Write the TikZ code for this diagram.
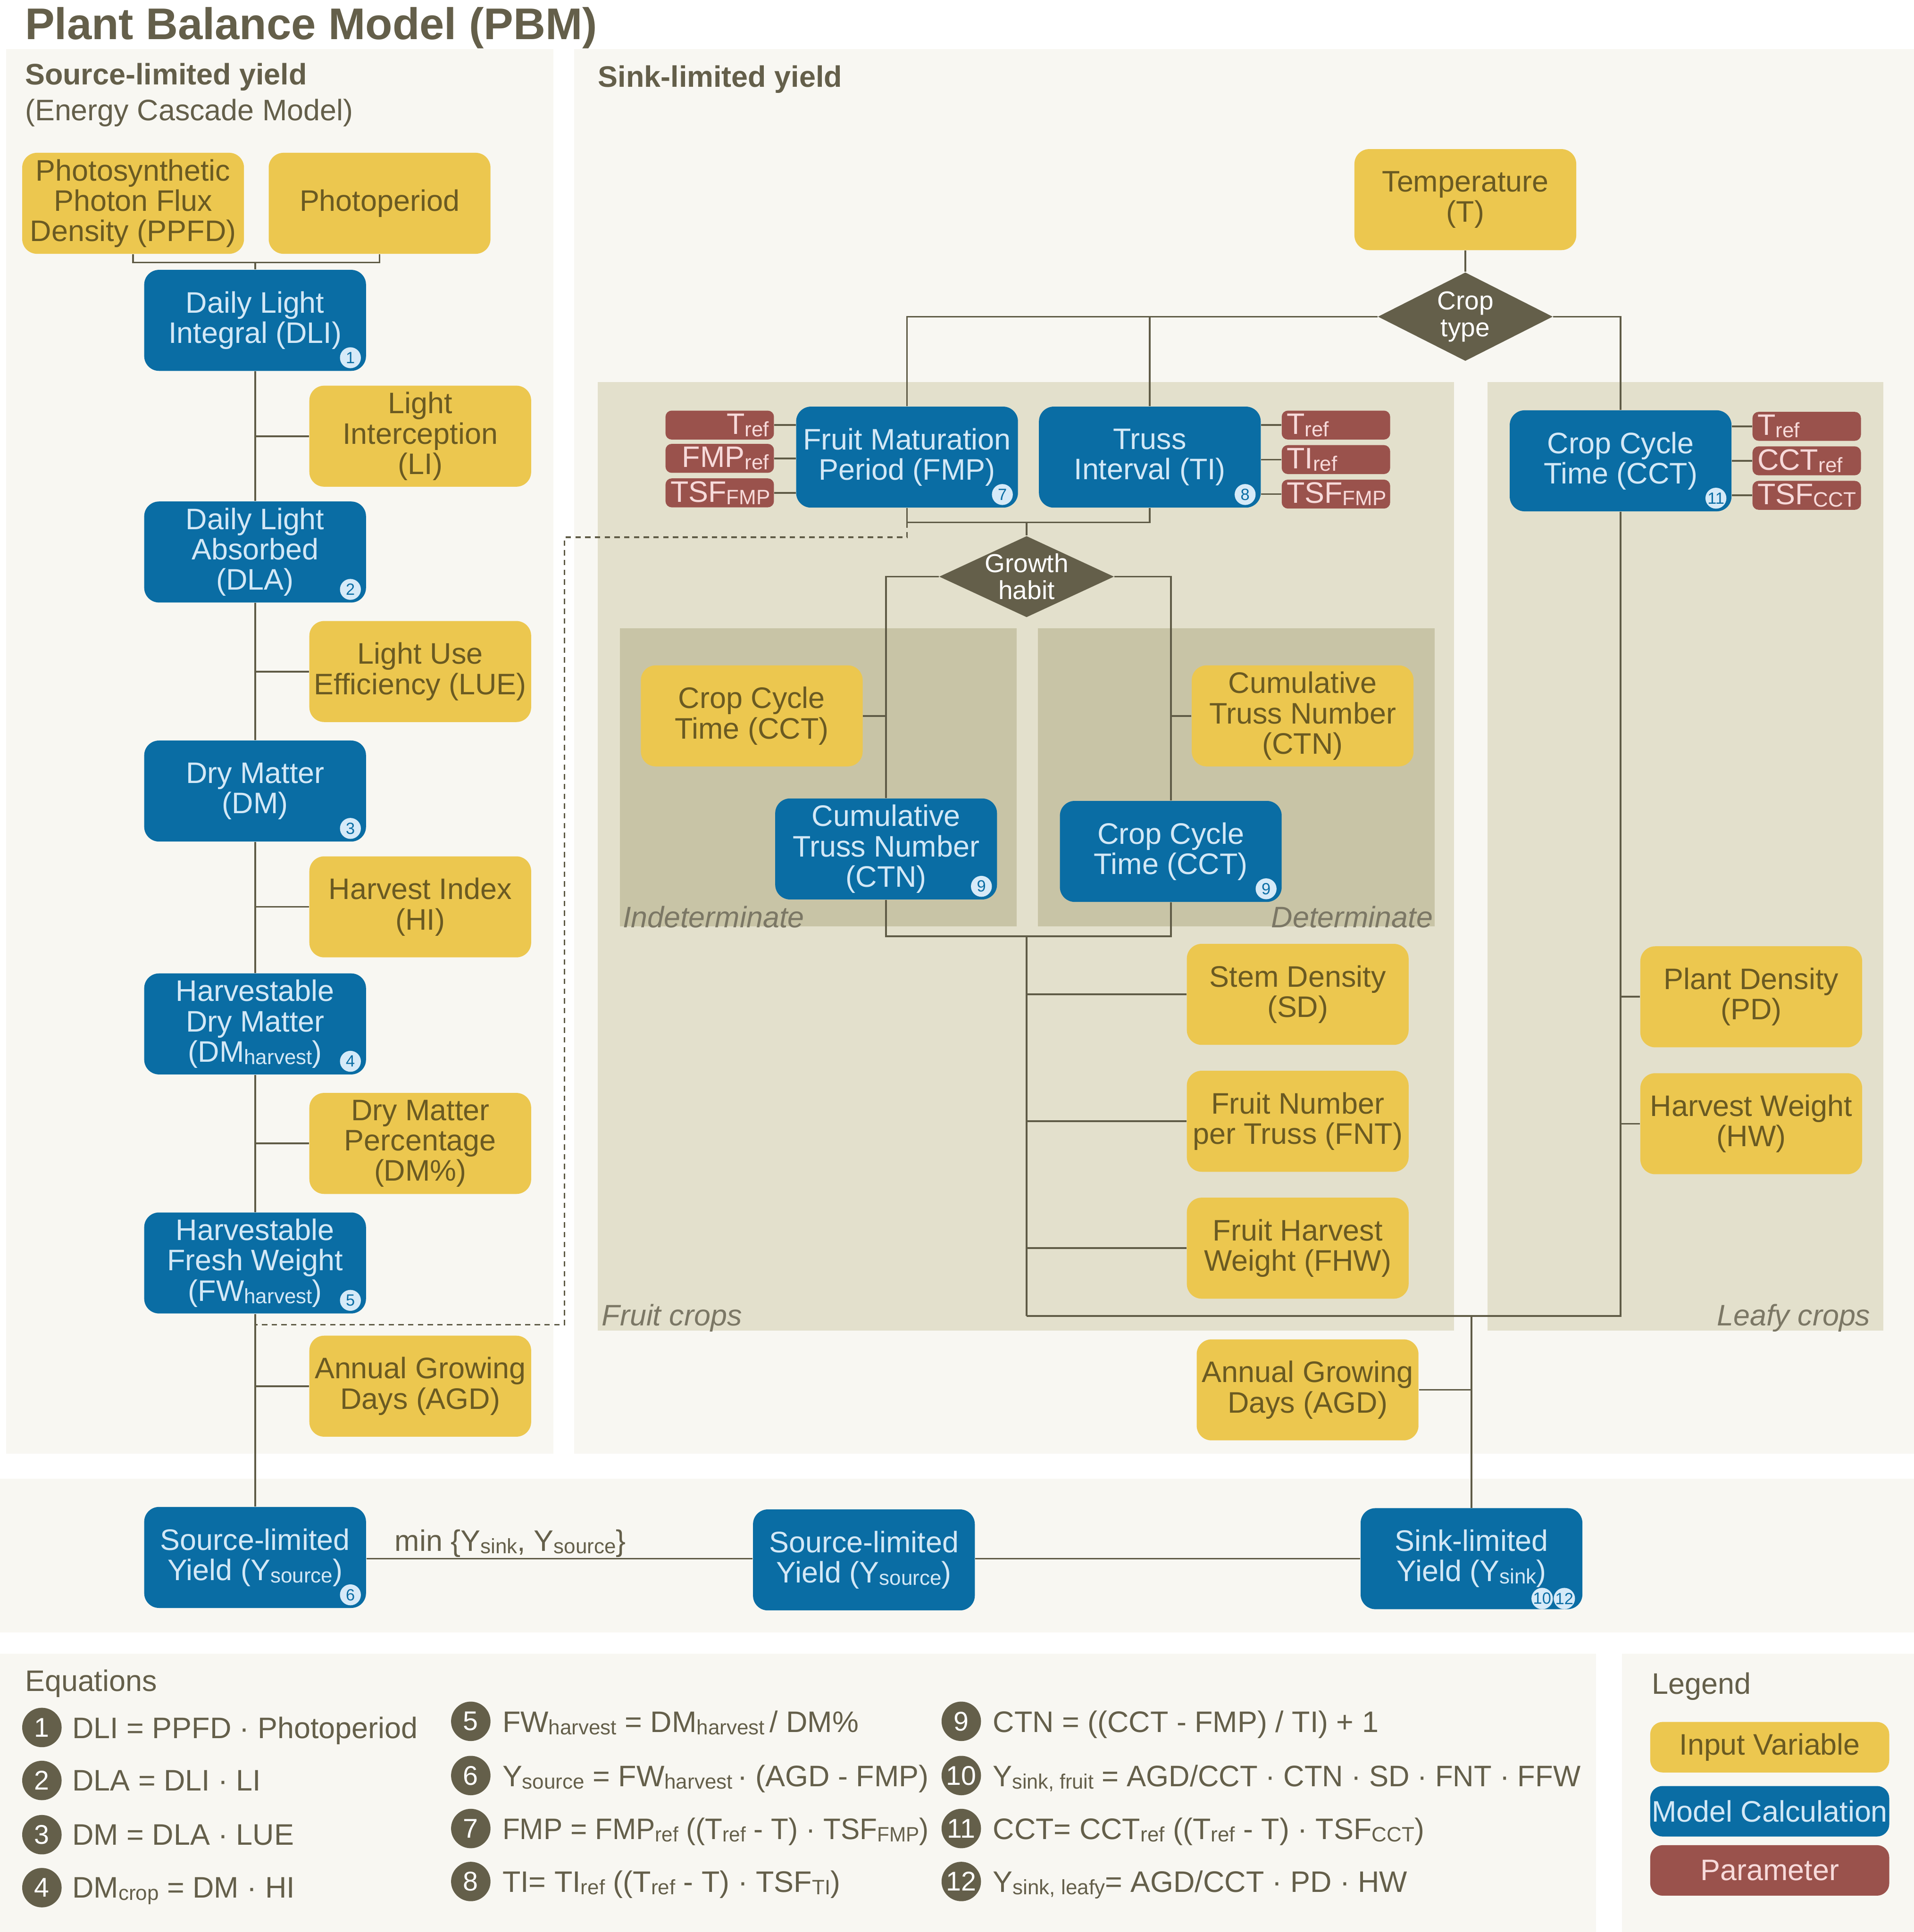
\documentclass[tikz,border=0pt]{standalone}
\usepackage{fontspec}
\setmainfont{Liberation Sans}
\usepackage{xcolor}
\usetikzlibrary{positioning,shapes.geometric,calc}

\definecolor{panelbg}{HTML}{F8F7F2}
\definecolor{fruitbg}{HTML}{E3E0CC}
\definecolor{habitbg}{HTML}{C8C4A6}
\definecolor{inyel}{HTML}{ECC74F}
\definecolor{intxt}{HTML}{6A5A22}
\definecolor{calcblue}{HTML}{0A6DA4}
\definecolor{calctxt}{HTML}{D3E8F6}
\definecolor{parred}{HTML}{9A524C}
\definecolor{partxt}{HTML}{F7DADA}
\definecolor{dkolive}{HTML}{645F4A}
\definecolor{linec}{HTML}{5F5B46}
\definecolor{badgec}{HTML}{D6EAF8}

\newcommand{\sbs}[1]{\raisebox{-0.15ex}{\scalebox{0.7}{#1}}}
\newcommand{\boxfont}{\fontsize{13.7}{14}\selectfont}

\tikzset{
  box/.style={rounded corners=0.24cm, minimum width=3.6cm, minimum height=1.64cm,
    inner sep=1pt, align=center, font=\boxfont},
  inp/.style={box, fill=inyel, text=intxt},
  calc/.style={box, fill=calcblue, text=calctxt},
  param/.style={fill=parred, text=partxt, rounded corners=0.1cm, minimum height=0.47cm,
    inner xsep=0.08cm, inner ysep=0pt, text width=1.6cm, font=\boxfont},
  paramL/.style={param, align=right},
  paramR/.style={param, align=left},
  choice/.style={diamond, fill=dkolive, text=white, inner sep=-8pt, minimum width=2.84cm,
    minimum height=1.44cm, align=center, font=\fontsize{12}{12.5}\selectfont},
  badge/.style={circle, fill=badgec, text=calcblue, inner sep=0pt, minimum size=0.34cm,
    font=\fontsize{7.5}{8}\selectfont},
  eqnum/.style={circle, fill=dkolive, text=white, inner sep=0pt, minimum size=0.64cm,
    font=\fontsize{12.5}{13}\selectfont},
  eqtxt/.style={text=dkolive, inner sep=0pt, text depth=0pt, font=\boxfont},
  lbl/.style={text=dkolive, inner sep=0pt, text depth=0pt, font=\boxfont},
  area/.style={text=dkolive!85, inner sep=0pt, text depth=0pt, font=\boxfont\itshape},
  legbox/.style={minimum width=3.88cm, minimum height=0.82cm, rounded corners=0.2cm, inner sep=0pt},
  link/.style={draw=linec, line width=0.8pt},
  dashlink/.style={draw=linec, line width=0.7pt, dash pattern=on 2.5pt off 2pt},
}

\begin{document}
\begin{tikzpicture}[x=0.02cm, y=-0.02cm]
    % Page and panels
    \fill[white] (0,0) rectangle (1553,1568);
    \useasboundingbox (0,0) rectangle (1553,1568);
    \fill[panelbg] (5,40) rectangle (449,1180);
    \fill[panelbg] (466,40) rectangle (1553,1180);
    \fill[panelbg] (0,1200) rectangle (1553,1325);
    \fill[panelbg] (0,1342) rectangle (1295,1568);
    \fill[panelbg] (1316,1342) rectangle (1553,1568);
    \fill[fruitbg] (485,310) rectangle (1180,1080);
    \fill[fruitbg] (1207,310) rectangle (1528,1080);
    \fill[habitbg] (503,510) rectangle (825,752);
    \fill[habitbg] (842,510) rectangle (1164,752);

    % Titles
    \node[lbl, anchor=west, font=\fontsize{20.5}{22}\selectfont\bfseries] (title) at (20,19) {Plant Balance Model (PBM)};
    \node[lbl, anchor=west, font=\boxfont\bfseries] (srchead) at (20,60) {Source-limited yield};
    \node[lbl, anchor=west] (srcsub) at (20,89) {(Energy Cascade Model)};
    \node[lbl, anchor=west, font=\boxfont\bfseries] (sinkhead) at (485,62) {Sink-limited yield};
    \node[area, anchor=west] (fruitlbl) at (488,1067) {Fruit crops};
    \node[area, anchor=east] (leafylbl) at (1518,1067) {Leafy crops};
    \node[area, anchor=west] (indetlbl) at (505,744) {Indeterminate};
    \node[area, anchor=east] (detlbl) at (1163,744) {Determinate};

    % Source-limited column
    \node[inp] (ppfd) at (108,165) {Photosynthetic\\Photon Flux\\Density (PPFD)};
    \node[inp] (photo) at (308,165) {Photoperiod};
    \node[calc] (dli) at (207,260) {Daily Light\\Integral (DLI)};
    \node[inp] (li) at (341,354) {Light\\Interception\\(LI)};
    \node[calc] (dla) at (207,448) {Daily Light\\Absorbed\\(DLA)};
    \node[inp] (lue) at (341,545) {Light Use\\Efficiency (LUE)};
    \node[calc] (dm) at (207,642) {Dry Matter\\(DM)};
    \node[inp] (hi) at (341,736) {Harvest Index\\(HI)};
    \node[calc] (dmh) at (207,831) {Harvestable\\Dry Matter\\(DM\sbs{harvest})};
    \node[inp] (dmp) at (341,928) {Dry Matter\\Percentage\\(DM\%)};
    \node[calc] (fwh) at (207,1025) {Harvestable\\Fresh Weight\\(FW\sbs{harvest})};
    \node[inp] (agdl) at (341,1125) {Annual Growing\\Days (AGD)};
    \node[calc] (ysrc) at (207,1264) {Source-limited\\Yield (Y\sbs{source})};

    \coordinate (jl) at (207,213);
    \draw[link] (ppfd.south) |- (jl) -| (photo.south);
    \draw[link] (jl) -- (dli.north);
    \foreach \a/\b in {dli/dla, dla/dm, dm/dmh, dmh/fwh, fwh/ysrc}
        \draw[link] (\a) -- (\b);
    \foreach \n in {li, lue, hi, dmp, agdl}
        \draw[link] (\n.west) -- (\n.west -| dli.south);

    % Sink-limited part
    \node[inp] (temp) at (1189,162) {Temperature\\(T)};
    \node[choice] (crop) at (1189,257) {Crop\\type};
    \node[calc] (fmp) at (736,371) {Fruit Maturation\\Period (FMP)};
    \node[calc] (ti) at (933,371) {Truss\\Interval (TI)};
    \node[calc] (cctl) at (1315,374) {Crop Cycle\\Time (CCT)};

    \node[paramL] (fmpt) at (584,345) {T\sbs{ref}};
    \node[paramL] (fmpr) at (584,372) {FMP\sbs{ref}};
    \node[paramL] (fmps) at (584,400) {TSF\sbs{FMP}};
    \node[paramR] (tit) at (1084,345) {T\sbs{ref}};
    \node[paramR] (tir) at (1084,373) {TI\sbs{ref}};
    \node[paramR] (tis) at (1084,401) {TSF\sbs{FMP}};
    \node[paramR] (cctt) at (1466,346) {T\sbs{ref}};
    \node[paramR] (cctr) at (1466,374) {CCT\sbs{ref}};
    \node[paramR] (ccts) at (1466,402) {TSF\sbs{CCT}};

    \node[choice, minimum height=1.32cm] (habit) at (833,468) {Growth\\habit};
    \node[inp] (cct1) at (610,581) {Crop Cycle\\Time (CCT)};
    \node[calc] (ctn1) at (719,689) {Cumulative\\Truss Number\\(CTN)};
    \node[inp] (ctn2) at (1057,581) {Cumulative\\Truss Number\\(CTN)};
    \node[calc] (cct2) at (950,691) {Crop Cycle\\Time (CCT)};
    \node[inp] (sd) at (1053,807) {Stem Density\\(SD)};
    \node[inp] (fnt) at (1053,910) {Fruit Number\\per Truss (FNT)};
    \node[inp] (fhw) at (1053,1013) {Fruit Harvest\\Weight (FHW)};
    \node[inp] (pd) at (1421,809) {Plant Density\\(PD)};
    \node[inp] (hw) at (1421,912) {Harvest Weight\\(HW)};
    \node[inp] (agdr) at (1061,1128) {Annual Growing\\Days (AGD)};
    \node[calc] (ymid) at (701,1266) {Source-limited\\Yield (Y\sbs{source})};
    \node[calc] (ysink) at (1194,1265) {Sink-limited\\Yield (Y\sbs{sink})};

    \draw[link] (temp) -- (crop);
    \draw[link] (crop.west) -| (fmp.north);
    \draw[link] (ti.north) -- (ti.north |- crop.west);
    \draw[link] (crop.east) -| (cctl.north);
    \foreach \p in {fmpt, fmpr, fmps}
        \draw[link] (\p.east) -- (\p.east -| fmp.west);
    \foreach \p in {tit, tir, tis}
        \draw[link] (\p.west) -- (\p.west -| ti.east);
    \foreach \p in {cctt, cctr, ccts}
        \draw[link] (\p.west) -- (\p.west -| cctl.east);

    \coordinate (jt) at (833,424);
    \draw[link] (fmp.south) |- (jt) -| (ti.south);
    \draw[link] (jt) -- (habit.north);
    \draw[link] (habit.west) -| (ctn1.north);
    \draw[link] (habit.east) -| (cct2.north);
    \draw[link] (cct1.east) -- (cct1.east -| ctn1.north);
    \draw[link] (ctn2.west) -- (ctn2.west -| cct2.north);

    \coordinate (jh) at (833,760);
    \coordinate (jf) at (833,1068);
    \draw[link] (ctn1.south) |- (jh) -| (cct2.south);
    \draw[link] (jh) -- (jf);
    \foreach \n in {sd, fnt, fhw}
        \draw[link] (\n.west) -- (\n.west -| jh);
    \draw[link] (cctl.south) |- (jf);
    \foreach \n in {pd, hw}
        \draw[link] (\n.west) -- (\n.west -| cctl.south);
    \draw[link] (ysink.north) -- (ysink.north |- jf);
    \draw[link] (agdr.east) -- (agdr.east -| ysink.north);

    % FMP feeds back into source yield
    \coordinate (da) at (458,436);
    \coordinate (db) at (458,1075);
    \draw[dashlink] (fmp.south |- jt) |- (da) -- (db) -- (db -| dli.south);

    % Final yield
    \coordinate (jy) at (207,1265);
    \draw[link] (ysrc.east |- jy) -- (ymid.west |- jy);
    \draw[link] (ymid.east |- jy) -- (ysink.west |- jy);
    \node[lbl, anchor=west] (minlbl) at (320,1250) {min \{Y\sbs{sink}, Y\sbs{source}\}};

    % Equation badges in boxes
    \foreach \n/\k in {dli/1, dla/2, dm/3, dmh/4, fwh/5, ysrc/6, fmp/7, ti/8, ctn1/9, cct2/9, cctl/11}
        \node[badge] (\n-b) at ([shift={(-13,-11)}]\n.south east) {\k};
    \node[badge] (ysink-b1) at ([shift={(-33,-9)}]ysink.south east) {10};
    \node[badge] (ysink-b2) at ([shift={(-15,-9)}]ysink.south east) {12};

    % Equations
    \node[lbl, anchor=west] (eqhead) at (20,1364) {Equations};
    \foreach \k/\x/\y in {1/34/1402, 2/34/1445, 3/34/1489, 4/34/1532,
                          5/382/1397, 6/382/1441, 7/382/1484, 8/382/1527,
                          9/780/1397, 10/780/1441, 11/780/1484, 12/780/1527}
        \node[eqnum] (e\k) at (\x,\y) {\k};
    \node[eqtxt, right=0.16cm of e1] (q1) {DLI = PPFD · Photoperiod};
    \node[eqtxt, right=0.16cm of e2] (q2) {DLA = DLI · LI};
    \node[eqtxt, right=0.16cm of e3] (q3) {DM = DLA · LUE};
    \node[eqtxt, right=0.16cm of e4] (q4) {DM\sbs{crop} = DM · HI};
    \node[eqtxt, right=0.18cm of e5] (q5) {FW\sbs{harvest} = DM\sbs{harvest}\,/ DM\%};
    \node[eqtxt, right=0.18cm of e6] (q6) {Y\sbs{source} = FW\sbs{harvest}\,· (AGD - FMP)};
    \node[eqtxt, right=0.18cm of e7] (q7) {\scalebox{0.96}[1]{FMP = FMP\sbs{ref} ((T\sbs{ref} - T) · TSF\sbs{FMP})}};
    \node[eqtxt, right=0.18cm of e8] (q8) {TI= TI\sbs{ref} ((T\sbs{ref} - T) · TSF\sbs{TI})};
    \node[eqtxt, right=0.18cm of e9] (q9) {CTN = ((CCT - FMP) / TI) + 1};
    \node[eqtxt, right=0.18cm of e10] (q10) {\scalebox{0.98}[1]{Y\sbs{sink, fruit} = AGD/CCT · CTN · SD · FNT · FFW}};
    \node[eqtxt, right=0.18cm of e11] (q11) {CCT= CCT\sbs{ref} ((T\sbs{ref} - T) · TSF\sbs{CCT})};
    \node[eqtxt, right=0.18cm of e12] (q12) {Y\sbs{sink, leafy}= AGD/CCT · PD · HW};

    % Legend
    \node[lbl, anchor=west] (leghead) at (1340,1366) {Legend};
    \node[legbox, fill=inyel, text=intxt, font=\boxfont] (legin) at (1436,1418) {Input Variable};
    \node[legbox, fill=calcblue, text=calctxt, font=\boxfont] (legcalc) at (1436,1470) {Model Calculation};
    \node[legbox, fill=parred, text=partxt, font=\boxfont] (legpar) at (1436,1518) {Parameter};
\end{tikzpicture}
\end{document}
